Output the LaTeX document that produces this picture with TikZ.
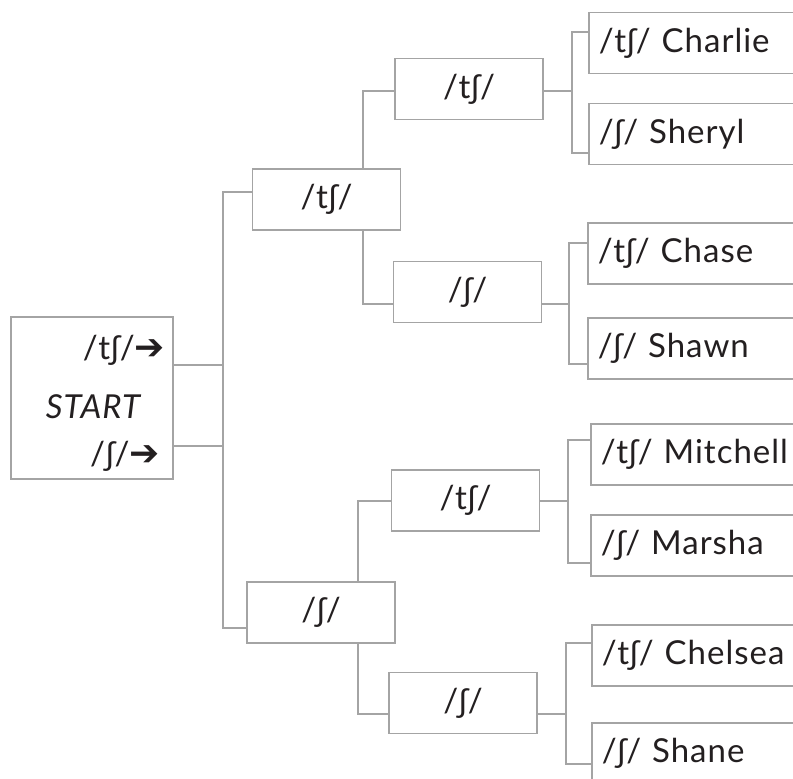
\documentclass[tikz,border=0pt]{standalone}
\usepackage{fontspec}
\setmainfont[LetterSpace=3]{Lato}
\newfontfamily\arrowfont{DejaVu Sans}
\definecolor{linegray}{HTML}{A4A4A4}
\definecolor{textdark}{HTML}{231F20}
\begin{document}
\begin{tikzpicture}[x=1pt,y=-1pt,
  box/.style={draw=linegray, line width=1.6pt, fill=white, inner sep=0pt,
    font=\fontsize{33}{37}\selectfont, text=textdark},
  midbox/.style={box, minimum width=148pt, minimum height=61pt},
  leaf/.style={box, anchor=west, text width=220pt, align=left, inner xsep=10pt, minimum height=61pt},
  txt/.style={inner sep=0pt, font=\fontsize{33}{37}\selectfont, text=textdark},
  conn/.style={draw=linegray, line width=1.6pt}]
\useasboundingbox (0,0) rectangle (793,779);
\clip (0,0) rectangle (793,779);
% start box
\node[box, minimum width=162pt, minimum height=162pt] (start) at (92,398) {};
\node[txt, anchor=east] (s1) at (165,350) {/tʃ/{\arrowfont\fontsize{36}{40}\selectfont ➔}};
\node[txt, font=\fontsize{33}{37}\selectfont\itshape] (s0) at (93,407) {START};
\node[txt, anchor=east] (s2) at (160,456) {/ʃ/{\arrowfont\fontsize{36}{40}\selectfont ➔}};
% level 1
\node[midbox] (L1a) at (326.5,199.5) {/tʃ/};
\node[midbox] (L1b) at (321,612.5) {/ʃ/};
% level 2
\node[midbox] (L2a) at (469,89) {/tʃ/};
\node[midbox] (L2b) at (467.5,292) {/ʃ/};
\node[midbox] (L2c) at (465.5,500.5) {/tʃ/};
\node[midbox] (L2d) at (463,703) {/ʃ/};
% leaves
\node[leaf] (Charlie) at (588,43) {/tʃ/ Charlie};
\node[leaf] (Sheryl) at (588,134) {/ʃ/ Sheryl};
\node[leaf] (Chase) at (587,253.5) {/tʃ/ Chase};
\node[leaf] (Shawn) at (587,348.5) {/ʃ/ Shawn};
\node[leaf] (Mitchell) at (590,454.5) {/tʃ/ Mitchell};
\node[leaf] (Marsha) at (590,545.5) {/ʃ/ Marsha};
\node[leaf] (Chelsea) at (591,655.5) {/tʃ/ Chelsea};
\node[leaf] (Shane) at (591,753.5) {/ʃ/ Shane};
% bars
\coordinate (trunk) at (223,400);
\coordinate (b1) at (572,91);
\coordinate (b2) at (569,304);
\coordinate (b3) at (568,501);
\coordinate (b4) at (566,714);
% start -> level 1
\draw[conn] ([yshift=7.5]L1a.west) -| (trunk) |- ([yshift=-15.5]L1b.west);
\draw[conn] ([yshift=33]start.east) -| (trunk);
\draw[conn] ([yshift=-48]start.east) -| (trunk);
% level 1 -> level 2
\draw[conn] ([xshift=36.5]L1a.north) |- ([yshift=-2]L2a.west);
\draw[conn] ([xshift=36.5]L1a.south) |- ([yshift=-12]L2b.west);
\draw[conn] ([xshift=37]L1b.north) |- ([yshift=-0.5]L2c.west);
\draw[conn] ([xshift=37]L1b.south) |- ([yshift=-11]L2d.west);
% level 2 -> leaves
\draw[conn] ([yshift=-2]L2a.east) -- (b1);
\draw[conn] ([yshift=11]Charlie.west) -| (b1) |- ([yshift=-19]Sheryl.west);
\draw[conn] ([yshift=-12]L2b.east) -- (b2);
\draw[conn] ([yshift=10.5]Chase.west) -| (b2) |- ([yshift=-15.5]Shawn.west);
\draw[conn] ([yshift=-0.5]L2c.east) -- (b3);
\draw[conn] ([yshift=14.5]Mitchell.west) -| (b3) |- ([yshift=-17.5]Marsha.west);
\draw[conn] ([yshift=-11]L2d.east) -- (b4);
\draw[conn] ([yshift=12.5]Chelsea.west) -| (b4) |- ([yshift=-10.5]Shane.west);
\end{tikzpicture}
\end{document}
